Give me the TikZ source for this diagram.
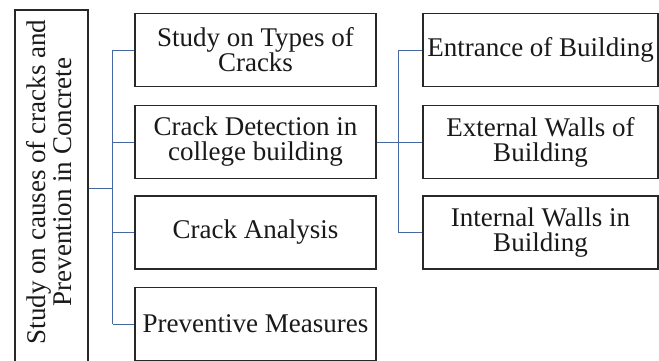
\documentclass[tikz,border=0pt]{standalone}
\usepackage{fontspec}
\setmainfont{Liberation Serif}
\definecolor{connblue}{RGB}{70,104,160}
\definecolor{boxline}{RGB}{40,40,40}
\definecolor{txt}{RGB}{25,25,25}
\tikzset{
  box/.style={draw=boxline, line width=1.3pt, rectangle, inner sep=0pt, align=center,
    text=txt, font=\fontsize{27}{25}\selectfont},
  lonebox/.style={box, minimum width=241pt, minimum height=73pt},
  ltwobox/.style={box, minimum width=235pt, minimum height=73pt},
  conn/.style={draw=connblue, line width=0.9pt}
}
\begin{document}
\begin{tikzpicture}[x=1pt,y=-1pt]
\useasboundingbox (0,0) rectangle (659,361);
\clip (0,0) rectangle (659,361);
\fill[white] (0,0) rectangle (659,361);
% main vertical box
\node[box, minimum width=73pt, minimum height=356pt] (main) at (51.5,188) {};
\node[text=txt, font=\fontsize{27}{26}\selectfont, align=center, rotate=90, inner sep=0pt] (maintext) at (49,182)
  {Study on causes of cracks and\\Prevention in Concrete};
% level one
\node[lonebox] (a) at (255.5,50) {Study on Types of\\Cracks};
\node[lonebox] (b) at (255.5,142) {Crack Detection in\\college building};
\node[lonebox] (c) at (255.5,232.5) {Crack Analysis};
\node[lonebox] (d) at (255.5,324) {Preventive Measures};
% level two
\node[ltwobox] (e) at (540.5,50) {Entrance of Building};
\node[ltwobox] (f) at (540.5,142) {External Walls of\\Building};
\node[ltwobox] (g) at (540.5,232.5) {Internal Walls in\\Building};
% connectors main -> level one
\draw[conn] (main.east) -- ++(24,0) coordinate (t1);
\draw[conn] (t1 |- a.west) -- (t1 |- d.west);
\draw[conn] (t1 |- a.west) -- (a.west);
\draw[conn] (t1 |- b.west) -- (b.west);
\draw[conn] (t1 |- c.west) -- (c.west);
\draw[conn] (t1 |- d.west) -- (d.west);
% connectors b -> level two
\draw[conn] (b.east) -- ++(22,0) coordinate (t2);
\draw[conn] (t2 |- e.west) -- (t2 |- g.west);
\draw[conn] (t2 |- e.west) -- (e.west);
\draw[conn] (t2 |- f.west) -- (f.west);
\draw[conn] (t2 |- g.west) -- (g.west);
\end{tikzpicture}
\end{document}
